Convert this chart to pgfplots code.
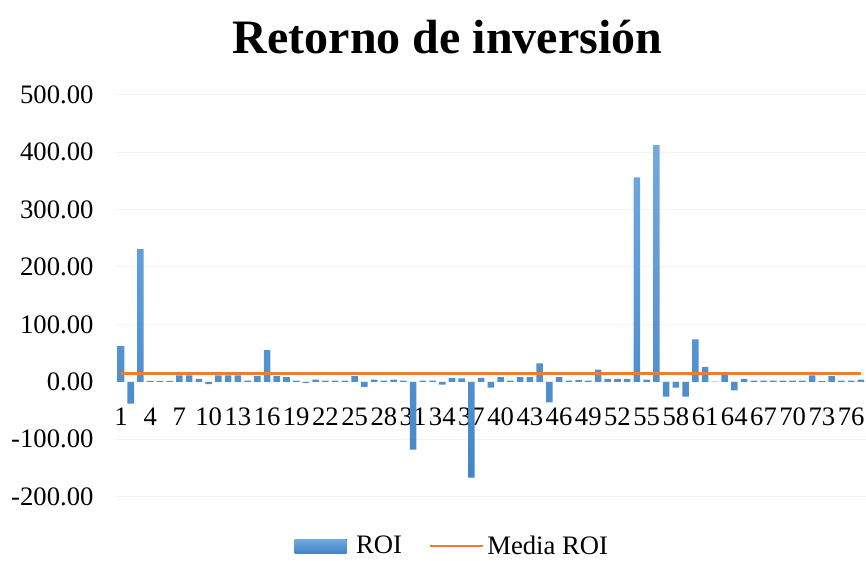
\documentclass[border=0pt]{standalone}
\usepackage{pgfplots}
\pgfplotsset{compat=1.18}
\usepackage{pgfplotstable}
\usepackage{fontspec}
\setmainfont{Liberation Serif}

\definecolor{roitop}{RGB}{114,170,224}
\definecolor{roibot}{RGB}{66,133,200}
\definecolor{mediaorange}{RGB}{237,125,49}
\definecolor{gridgray}{RGB}{243,243,243}

% ROI per project (1..77)
\pgfplotstableread{
n roi
1 62
2 -38
3 231
4 1.5
5 1.5
6 1.5
7 11
8 11
9 5
10 -4
11 11
12 11
13 11
14 2
15 10
16 55
17 10
18 8
19 2
20 -2
21 4
22 2
23 2
24 2
25 10
26 -9
27 4
28 2
29 4
30 2
31 -118
32 2
33 2
34 -5
35 7
36 6
37 -167
38 7
39 -10
40 8
41 2
42 8
43 8
44 32
45 -36
46 8
47 2
48 3
49 2
50 21
51 5
52 5
53 5
54 356
55 4
56 412
57 -26
58 -10
59 -26
60 74
61 26
62 0.3
63 16
64 -15
65 5
66 2
67 2
68 2
69 2
70 2
71 2
72 11
73 1
74 10
75 2
76 2
77 4
}\roidata

\begin{document}
\begin{tikzpicture}
\path[use as bounding box] (0pt,0pt) rectangle (649.5pt,420pt);
\node[font=\fontsize{36}{42}\selectfont\bfseries] at (335.6pt,392pt) {Retorno de inversión};
\begin{axis}[at={(87.1pt,47.5pt)}, anchor=south west,
  scale only axis, width=562.2pt, height=301.5pt,
  xmin=0.5, xmax=77.5, ymin=-200, ymax=500,
  axis x line*=middle, axis y line*=left,
  axis line style={draw=none},
  hide obscured x ticks=false, hide obscured y ticks=false,
  xtick={1,4,...,76}, ytick={-200,-100,...,500},
  major tick length=0pt,
  ymajorgrids, grid style={gridgray, line width=0.8pt},
  tick label style={font=\fontsize{20}{24}\selectfont},
  /pgf/number format/assume math mode=true,
  yticklabel style={xshift=-13.5pt, /pgf/number format/.cd, fixed, fixed zerofill, precision=2},
  xticklabel style={yshift=-16pt},
  legend style={at={(0.449,-0.123)}, anchor=center, legend columns=2,
    draw=none, fill=none, inner sep=1pt, font=\fontsize{20}{24}\selectfont,
    /tikz/column 1/.style={column sep=5pt},
    /tikz/column 2/.style={column sep=18pt},
    /tikz/column 3/.style={column sep=0pt}},
]
\addplot[ybar, bar width=4.9pt, draw=none, top color=roitop, bottom color=roibot,
  legend image code/.code={\fill[top color=roitop, bottom color=roibot] (0pt,-5.25pt) rectangle (39pt,5.25pt);}]
  table[x=n, y=roi] {\roidata};
\addlegendentry{ROI}
\addplot[mediaorange, line width=2pt,
  legend image code/.code={\draw[mediaorange, line width=2pt] (0pt,0pt) -- (40pt,0pt);}]
  coordinates {(1,14) (77,14)};
\addlegendentry{Media ROI}
\end{axis}
\end{tikzpicture}
\end{document}
